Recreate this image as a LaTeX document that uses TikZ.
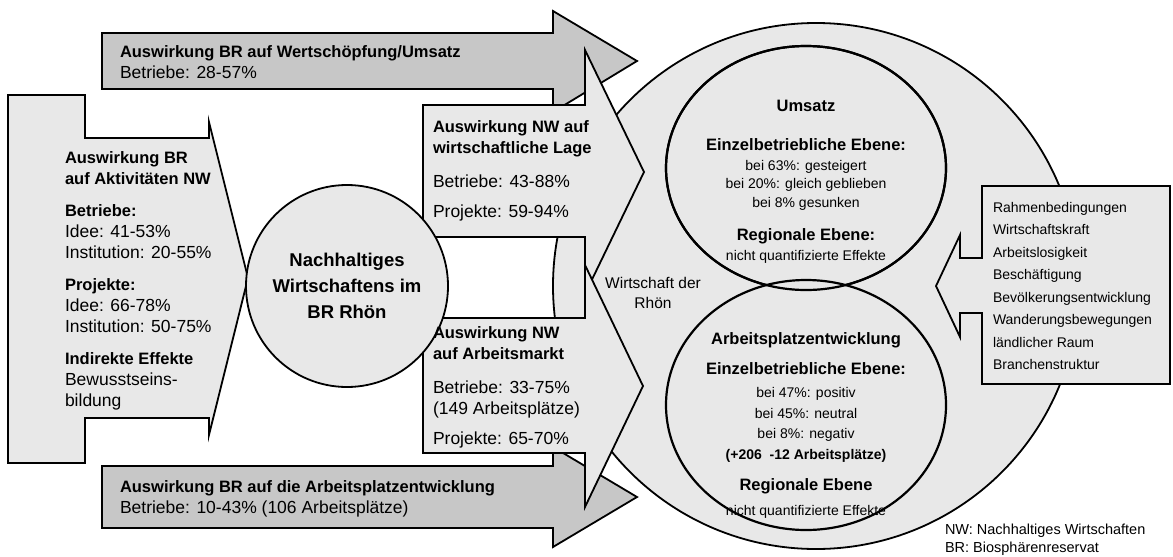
\documentclass[tikz,border=0pt]{standalone}
\usepackage{fontspec}
\setmainfont{Liberation Sans}
\usetikzlibrary{shapes.geometric,positioning}
\definecolor{hell}{gray}{0.91}
\definecolor{dunkel}{gray}{0.78}
\newcommand{\hd}[1]{{\fontsize{16.5}{21}\selectfont\bfseries #1}}

\begin{document}
\begin{tikzpicture}[x=1pt,y=-1pt,
  every node/.style={inner sep=0pt,outer sep=0pt},%
  lg/.style={fill=hell,draw=black,line width=1.8pt},%
  dg/.style={fill=dunkel,draw=black,line width=1.8pt},%
  el/.style={ellipse,lg,line width=2.2pt,minimum width=280pt},%
  tx/.style={font=\fontsize{17.5}{21}\selectfont,align=left,anchor=north west},%
  sm/.style={font=\fontsize{14}{18.5}\selectfont,align=center},%
  hb/.style={font=\fontsize{16.5}{21}\selectfont\bfseries,align=center},%
  ]
  \useasboundingbox (0,0) rectangle (1173,557);

  % Wirtschaft der Rhoen
  \node (rhoen) [circle,lg,minimum size=526pt] at (816,286) {};
  \node (ums) [el,minimum height=244pt] at (806,168) {};
  \node (arb) [el,minimum height=250pt] at (806,405) {};
  \node [el,fill=none,minimum height=244pt] at (ums.center) {};

  % BR-Pfeile
  \draw [dg] (102,33) -- (553,33) -- (553,11) -- (637,61) -- (553,112) -- (553,89) -- (102,89) -- cycle;
  \draw [dg] (102,466) -- (553,466) -- (553,447) -- (637,497) -- (553,547) -- (553,528) -- (102,528) -- cycle;
  \draw [lg] (8,95) -- (85,95) -- (85,138) -- (209,138) -- (209,122) -- (248,278)
    -- (209,435) -- (209,418) -- (85,418) -- (85,463) -- (8,463) -- cycle;

  % NW-Pfeile
  \draw [lg] (423,105) -- (585,105) -- (585,50) -- (644,172) -- (585,294) -- (585,237) -- (423,237) -- cycle;
  \draw [lg] (423,318) -- (585,318) -- (585,265) -- (643,386) -- (585,507) -- (585,453) -- (423,453) -- cycle;

  \node (nw) [circle,lg,minimum size=202pt,align=center,
  font=\fontsize{18.5}{26}\selectfont\bfseries] at (347,286) {Nachhaltiges\\Wirtschaftens im\\BR Rhön};

  % Rahmenbedingungen
  \draw [lg] (982,186) -- (1170,186) -- (1170,384) -- (982,384) -- (982,313) -- (960,313) -- (960,337)
    -- (936,286) -- (960,235) -- (960,258) -- (982,258) -- cycle;

  \node (ws) [tx] at (120,46) {\hd{Auswirkung BR auf Wertschöpfung/Umsatz}\\Betriebe: 28-57\%};
  \node (brap) [tx] at (120,481) {\hd{Auswirkung BR auf die Arbeitsplatzentwicklung}\\Betriebe: 10-43\% (106 Arbeitsplätze)};
  \node (akt) [tx] at (65,152) {\hd{Auswirkung BR}\\\hd{auf Aktivitäten NW}\\[11pt]%
    \hd{Betriebe:}\\Idee: 41-53\%\\Institution: 20-55\%\\[11pt]%
    \hd{Projekte:}\\Idee: 66-78\%\\Institution: 50-75\%\\[11pt]%
    \hd{Indirekte Effekte}\\Bewusstseins-\\bildung};
  \node (lage) [tx] at (433,121) {\hd{Auswirkung NW auf}\\\hd{wirtschaftliche Lage}\\[13pt]%
    Betriebe: 43-88\%\\[9pt]Projekte: 59-94\%};
  \node (markt) [tx] at (433,327) {\hd{Auswirkung NW}\\\hd{auf Arbeitsmarkt}\\[13pt]%
    Betriebe: 33-75\%\\(149 Arbeitsplätze)\\[9pt]Projekte: 65-70\%};
  \node (wdr) [align=center,font=\fontsize{15.5}{20}\selectfont] at (653,293) {Wirtschaft der\\Rhön};

  \node (umsa) [hb] at (806,106) {Umsatz};
  \node (umsb) [hb] at (806,145) {Einzelbetriebliche Ebene:};
  \node (umsc) [sm] at (806,185) {bei 63\%: gesteigert\\bei 20\%: gleich geblieben\\bei 8\% gesunken};
  \node (umsd) [hb] at (806,236) {Regionale Ebene:};
  \node (umse) [sm] at (806,257) {nicht quantifizierte Effekte};

  \node (arba) [hb] at (806,340) {Arbeitsplatzentwicklung};
  \node (arbb) [hb] at (806,369) {Einzelbetriebliche Ebene:};
  \node (arbc) [sm,font=\fontsize{14}{20.7}\selectfont] at (806,425) {bei 47\%: positiv\\bei 45\%: neutral\\
    bei 8\%: negativ\\\textbf{(+206\ \ -12 Arbeitsplätze)}};
  \node (arbd) [hb] at (806,486) {Regionale Ebene};
  \node (arbe) [sm] at (806,512) {nicht quantifizierte Effekte};

  \node (rahmen) [tx,font=\fontsize{14}{22.5}\selectfont] at (993,202) {Rahmenbedingungen\\Wirtschaftskraft\\
    Arbeitslosigkeit\\Beschäftigung\\Bevölkerungsentwicklung\\Wanderungsbewegungen\\ländlicher Raum\\Branchenstruktur};

  \node (leg) [tx,font=\fontsize{14.5}{18}\selectfont] at (945,524) {NW: Nachhaltiges Wirtschaften\\BR: Biosphärenreservat};
\end{tikzpicture}
\end{document}
